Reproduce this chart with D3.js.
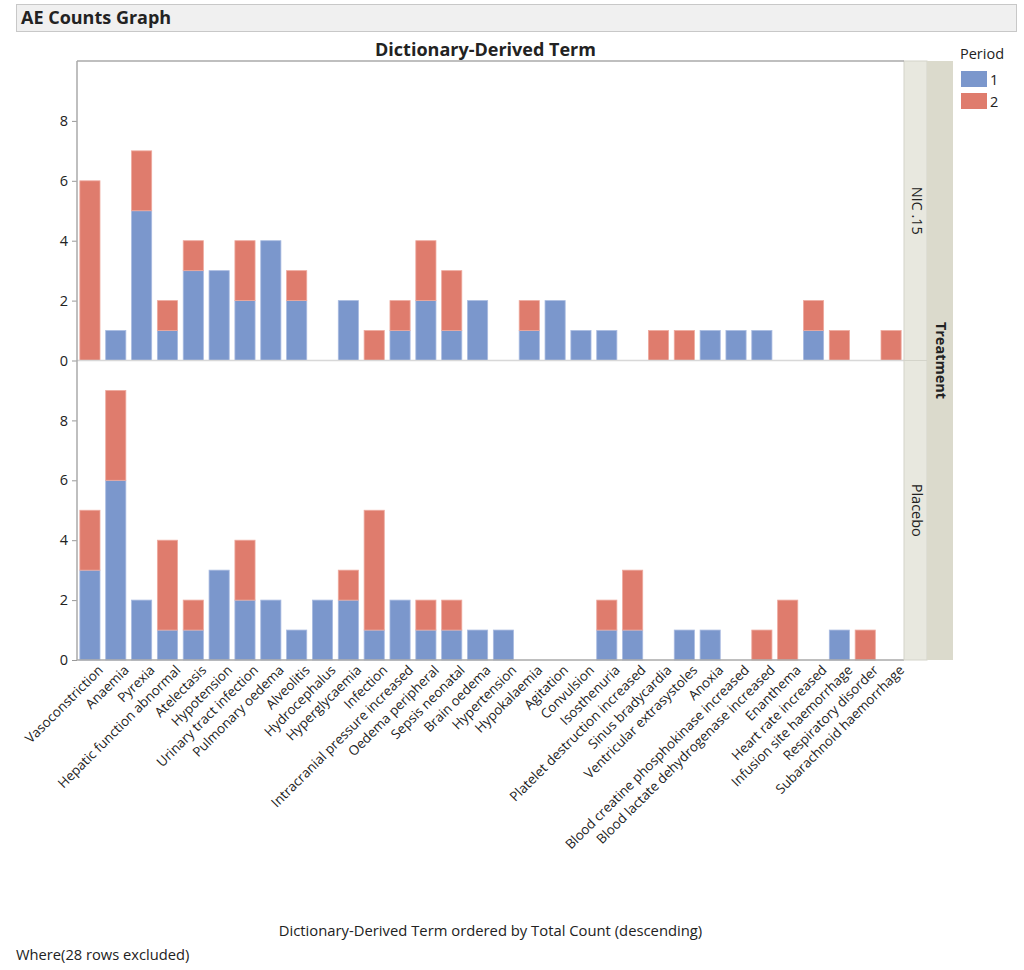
<!DOCTYPE html>
<html><head><meta charset="utf-8">
<script src="https://cdn.jsdelivr.net/npm/d3@7"></script>
<style>body{margin:0;background:#fff;} text{font-family:"Open Sans","Noto Sans",sans-serif;fill:#222;}</style>
</head><body>
<svg id="c" width="1024" height="970"></svg>
<script>
const terms = ["Vasoconstriction","Anaemia","Pyrexia","Hepatic function abnormal","Atelectasis","Hypotension","Urinary tract infection","Pulmonary oedema","Alveolitis","Hydrocephalus","Hyperglycaemia","Infection","Intracranial pressure increased","Oedema peripheral","Sepsis neonatal","Brain oedema","Hypertension","Hypokalaemia","Agitation","Convulsion","Isosthenuria","Platelet destruction increased","Sinus bradycardia","Ventricular extrasystoles","Anoxia","Blood creatine phosphokinase increased","Blood lactate dehydrogenase increased","Enanthema","Heart rate increased","Infusion site haemorrhage","Respiratory disorder","Subarachnoid haemorrhage"];
const treatments = ["NIC .15","Placebo"];
const periods = ["1","2"];
const nicP1 = [0,1,5,1,3,3,2,4,2,0,2,0,1,2,1,2,0,1,2,1,1,0,0,0,1,1,1,0,1,0,0,0];
const nicP2 = [6,0,2,1,1,0,2,0,1,0,0,1,1,2,2,0,0,1,0,0,0,0,1,1,0,0,0,0,1,1,0,1];
const plaP1 = [3,6,2,1,1,3,2,2,1,2,2,1,2,1,1,1,1,0,0,0,1,1,0,1,1,0,0,0,0,1,0,0];
const plaP2 = [2,3,0,3,1,0,2,0,0,0,1,4,0,1,1,0,0,0,0,0,1,2,0,0,0,0,1,2,0,0,1,0];
const yTicks = [0,2,4,6,8];
const colors = ["#7b97cc","#df7c6d"];

const svg = d3.select("#c");
const L = 77, R = 904, T = 61, PH = 299.5;
const panels = [{name:treatments[0], p:[nicP1,nicP2], top:T},{name:treatments[1], p:[plaP1,plaP2], top:T+PH}];

// title bar
svg.append("rect").attr("x",16.5).attr("y",4.5).attr("width",1000).attr("height",27).attr("fill","#f0f0f0").attr("stroke","#c8c8c8");
svg.append("text").attr("x",21).attr("y",24).attr("font-size",18).attr("font-weight","bold").text("AE Counts Graph");
svg.append("text").attr("x",(L+R)/2 - 5).attr("y",56).attr("text-anchor","middle").attr("font-size",18).attr("font-weight","bold").text("Dictionary-Derived Term");

const x = d3.scaleBand().domain(terms).range([L,R]).paddingInner(0.22).paddingOuter(0.11);

panels.forEach((pn,i)=>{
  const y = d3.scaleLinear().domain([0,10]).range([pn.top+PH, pn.top]);
  const g = svg.append("g");
  terms.forEach((t,j)=>{
    let base = 0;
    periods.forEach((p,k)=>{
      const v = pn.p[k][j];
      if(v>0){
        g.append("rect").attr("x",x(t)).attr("width",x.bandwidth())
          .attr("y",y(base+v)).attr("height",y(base)-y(base+v))
          .attr("fill",colors[k]).attr("stroke",k===0?"#a9bbe0":"#eeaa9f").attr("stroke-width",0.8);
      }
      base += v;
    });
  });
  const ax = svg.append("g").attr("transform",`translate(${L},0)`).call(d3.axisLeft(y).tickValues(yTicks).tickSize(5).tickPadding(4));
  ax.select(".domain").remove();
  ax.selectAll(".tick line").attr("stroke","#999");
  ax.selectAll(".tick text").attr("font-size",14.5).attr("fill","#222").attr("font-family","'Open Sans','Noto Sans',sans-serif");
  svg.append("line").attr("x1",L).attr("x2",R).attr("y1",y(0)).attr("y2",y(0)).attr("stroke",i===0?"#d8d8d8":"#aaa").attr("stroke-width",1.5);
  svg.append("rect").attr("x",R).attr("y",pn.top).attr("width",23).attr("height",PH).attr("fill","#e8e8df").attr("stroke","#d4d4ca");
  svg.append("text").attr("transform",`translate(${R+8},${pn.top+PH/2}) rotate(90)`).attr("text-anchor","middle").attr("font-size",14.5).text(pn.name);
});
svg.append("rect").attr("x",R+23).attr("y",T).attr("width",26).attr("height",PH*2).attr("fill","#dbdacc");
svg.append("text").attr("transform",`translate(${R+32},${T+PH}) rotate(90)`).attr("text-anchor","middle").attr("font-size",14.5).attr("font-weight","bold").text("Treatment");

svg.append("line").attr("x1",L).attr("x2",R).attr("y1",T).attr("y2",T).attr("stroke","#aaa").attr("stroke-width",1.5);
svg.append("line").attr("x1",L).attr("x2",L).attr("y1",T).attr("y2",T+2*PH).attr("stroke","#aaa").attr("stroke-width",1.5);

const xa = svg.append("g").attr("transform",`translate(0,${T+2*PH})`).call(d3.axisBottom(x).tickSize(0).tickPadding(6));
xa.select(".domain").remove();
xa.selectAll(".tick text").attr("font-size",13.4).attr("fill","#222").attr("font-family","'Open Sans','Noto Sans',sans-serif")
  .attr("text-anchor","end").attr("dy","0.5em").attr("transform","translate(5,2) rotate(-45)");

svg.append("text").attr("x",(L+R)/2).attr("y",936).attr("text-anchor","middle").attr("font-size",14.8).text("Dictionary-Derived Term ordered by Total Count (descending)");
svg.append("text").attr("x",16).attr("y",960).attr("font-size",14.7).text("Where(28 rows excluded)");

svg.append("text").attr("x",960).attr("y",59).attr("font-size",14.5).text("Period");
periods.forEach((p,k)=>{
  svg.append("rect").attr("x",961).attr("y",71+k*22).attr("width",26).attr("height",16).attr("fill",colors[k]);
  svg.append("text").attr("x",990).attr("y",85+k*22).attr("font-size",14.5).text(p);
});
</script>
</body></html>
